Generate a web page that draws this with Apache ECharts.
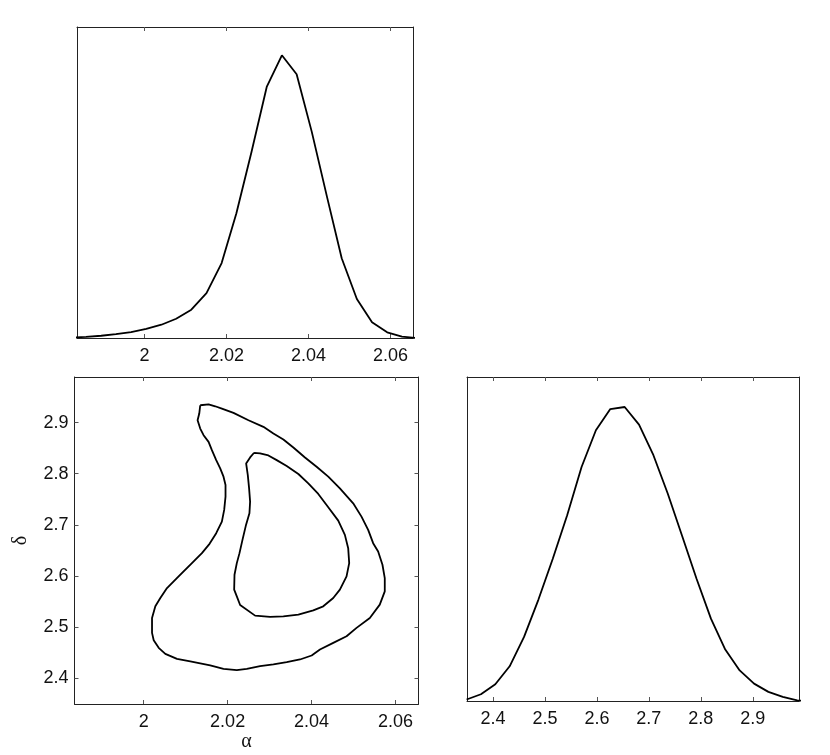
<!DOCTYPE html>
<html>
<head>
<meta charset="utf-8">
<script src="https://cdn.jsdelivr.net/npm/echarts@6/dist/echarts.min.js"></script>
<style>html,body{margin:0;padding:0;background:#fff;}#c{width:830px;height:755px;}</style>
</head>
<body>
<div id="c"></div>
<script>
// ---- data ----
const alphaTicks = [2, 2.02, 2.04, 2.06];
const deltaTicks = [2.4, 2.5, 2.6, 2.7, 2.8, 2.9];

const alphaGrid = [1.9820,1.9857,1.9894,1.9930,1.9967,2.0004,2.0041,2.0077,2.0114,2.0151,2.0188,2.0224,2.0261,2.0298,2.0335,2.0371,2.0408,2.0445,2.0481,2.0518,2.0555,2.0592,2.0628,2.0665];
const alphaDensity = [0.001,0.004,0.008,0.014,0.021,0.032,0.047,0.068,0.100,0.159,0.265,0.441,0.659,0.888,1.000,0.933,0.729,0.500,0.282,0.138,0.056,0.020,0.005,0.000];

const deltaGrid = [2.3492,2.3768,2.4045,2.4321,2.4598,2.4875,2.5151,2.5428,2.5705,2.5981,2.6258,2.6535,2.6811,2.7088,2.7365,2.7641,2.7918,2.8195,2.8471,2.8748,2.9025,2.9301,2.9578,2.9855,3.0131];
const deltaDensity = [0.005,0.023,0.057,0.118,0.218,0.345,0.484,0.632,0.796,0.921,0.993,1.000,0.940,0.836,0.705,0.561,0.416,0.280,0.175,0.104,0.059,0.031,0.014,0.002,0.000];

const outerAlpha = [2.01347,2.01546,2.01704,2.01863,2.02140,2.02497,2.02853,2.03091,2.03329,2.03567,2.03844,2.04121,2.04399,2.04676,2.04993,2.05191,2.05350,2.05469,2.05588,2.05691,2.05746,2.05746,2.05627,2.05390,2.05073,2.04835,2.04518,2.04201,2.04003,2.03725,2.03408,2.03091,2.02774,2.02457,2.02219,2.01902,2.01585,2.01347,2.01110,2.00793,2.00515,2.00357,2.00238,2.00198,2.00198,2.00277,2.00396,2.00555,2.00832,2.01149,2.01387,2.01569,2.01728,2.01863,2.01918,2.01950,2.01950,2.01902,2.01823,2.01728,2.01625,2.01546,2.01427,2.01347,2.01284,2.01324,2.01347];
const outerDelta = [2.9338,2.9357,2.9318,2.9273,2.9188,2.9045,2.8916,2.8786,2.8669,2.8513,2.8318,2.8136,2.7942,2.7714,2.7422,2.7162,2.6903,2.6643,2.6481,2.6221,2.5961,2.5701,2.5442,2.5182,2.4987,2.4825,2.4695,2.4565,2.4448,2.4370,2.4318,2.4273,2.4240,2.4188,2.4162,2.4188,2.4253,2.4292,2.4331,2.4383,2.4481,2.4597,2.4747,2.4890,2.5182,2.5409,2.5571,2.5766,2.5994,2.6253,2.6448,2.6630,2.6838,2.7065,2.7292,2.7552,2.7779,2.7942,2.8104,2.8266,2.8461,2.8623,2.8753,2.8883,2.9045,2.9175,2.9338];

const innerAlpha = [2.02631,2.02774,2.02972,2.03170,2.03408,2.03686,2.03923,2.04161,2.04399,2.04637,2.04795,2.04874,2.04898,2.04835,2.04676,2.04518,2.04280,2.04042,2.03686,2.03329,2.03012,2.02655,2.02298,2.02219,2.02156,2.02164,2.02219,2.02283,2.02354,2.02433,2.02520,2.02536,2.02512,2.02481,2.02441,2.02536,2.02631];
const innerDelta = [2.8409,2.8396,2.8357,2.8266,2.8149,2.7994,2.7812,2.7604,2.7344,2.7084,2.6805,2.6545,2.6253,2.5994,2.5734,2.5571,2.5409,2.5331,2.5247,2.5214,2.5201,2.5227,2.5435,2.5604,2.5734,2.6026,2.6253,2.6448,2.6708,2.6981,2.7227,2.7455,2.7714,2.7974,2.8201,2.8318,2.8409];

// ---- chart ----
const zip = (a, b) => a.map((v, i) => [v, b[i]]);
const FONT = '"Liberation Sans", Arial, Helvetica, sans-serif';
const lineC = '#222';
const tickC = '#555';

function xAx(grid, min, max, ticks, pos, labels) {
  return {
    type: 'value', gridIndex: grid, min: min, max: max, position: pos,
    axisLine: { show: true, onZero: false, lineStyle: { color: lineC, width: 1 } },
    axisTick: { show: true, inside: true, length: 4, customValues: ticks, lineStyle: { color: tickC } },
    axisLabel: { show: labels, customValues: ticks, margin: 9, color: '#111', fontSize: 18, fontFamily: FONT },
    splitLine: { show: false }
  };
}
function yAx(grid, min, max, ticks, pos, labels) {
  return {
    type: 'value', gridIndex: grid, min: min, max: max, position: pos,
    axisLine: { show: true, onZero: false, lineStyle: { color: lineC, width: 1 } },
    axisTick: ticks ? { show: true, inside: true, length: 4, customValues: ticks, lineStyle: { color: tickC } } : { show: false },
    axisLabel: labels ? { show: true, customValues: ticks, margin: 6, color: '#111', fontSize: 18, fontFamily: FONT } : { show: false },
    splitLine: { show: false }
  };
}

const aMin = 1.9835, aMax = 2.0655, dMin = 2.35, dMax = 2.989;

const xAxes = [
  xAx(0, aMin, aMax, alphaTicks, 'bottom', true),
  xAx(0, aMin, aMax, alphaTicks, 'top', false),
  xAx(1, aMin, aMax, alphaTicks, 'bottom', true),
  xAx(1, aMin, aMax, alphaTicks, 'top', false),
  xAx(2, dMin, dMax, deltaTicks, 'bottom', true),
  xAx(2, dMin, dMax, deltaTicks, 'top', false)
];
Object.assign(xAxes[2], {
  name: 'α', nameLocation: 'middle', nameGap: 27,
  nameTextStyle: { fontSize: 20, fontFamily: '"Liberation Serif", "DejaVu Serif", serif', color: '#111' }
});
const yAxes = [
  yAx(0, 0, 1.1, null, 'left', false),
  yAx(0, 0, 1.1, null, 'right', false),
  yAx(1, dMin, dMax, deltaTicks, 'left', true),
  yAx(1, dMin, dMax, deltaTicks, 'right', false),
  yAx(2, 0, 1.102, null, 'left', false),
  yAx(2, 0, 1.102, null, 'right', false)
];
Object.assign(yAxes[2], {
  name: 'δ', nameLocation: 'middle', nameGap: 44, nameRotate: 90,
  nameTextStyle: { fontSize: 20, fontFamily: '"Liberation Serif", "DejaVu Serif", serif', color: '#111' }
});

const ls = { color: '#000', width: 1.8 };
const mk = (xi, yi, data) => ({
  type: 'line', xAxisIndex: xi, yAxisIndex: yi, data: data,
  showSymbol: false, symbol: 'none', smooth: false, clip: true,
  lineStyle: ls, animation: false
});

const chart = echarts.init(document.getElementById('c'), null, { renderer: 'canvas' });
chart.setOption({
  backgroundColor: '#fff',
  animation: false,
  grid: [
    { left: 77, top: 27, width: 336, height: 311 },
    { left: 74.5, top: 377, width: 344, height: 327 },
    { left: 467, top: 377, width: 332, height: 324 }
  ],
  xAxis: xAxes,
  yAxis: yAxes,
  series: [
    mk(0, 0, zip(alphaGrid, alphaDensity)),
    mk(2, 2, zip(outerAlpha, outerDelta)),
    mk(2, 2, zip(innerAlpha, innerDelta)),
    mk(4, 4, zip(deltaGrid, deltaDensity))
  ]
});
</script>
</body>
</html>
